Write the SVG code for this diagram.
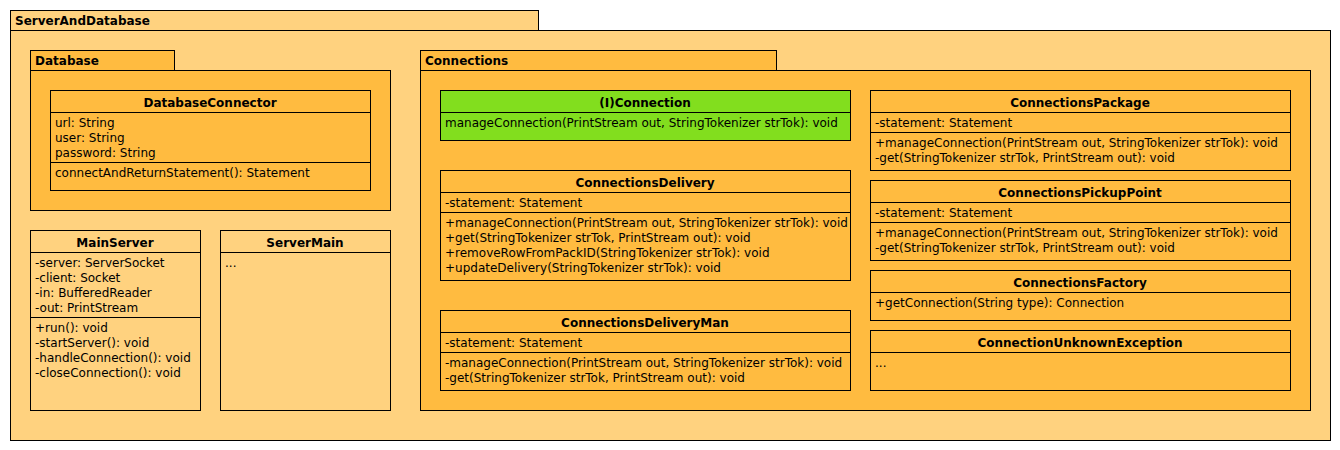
<svg xmlns="http://www.w3.org/2000/svg" width="1340" height="450" viewBox="0 0 1340 450">
<style>
  rect, line { stroke: #000; stroke-width: 1; shape-rendering: crispEdges; }
  .outer { fill: #FFD27F; }
  .pkg { fill: #FFBB40; }
  .cls { fill: #FFBB40; }
  .iface { fill: #82DE1E; }
  .light { fill: #FFD27F; }
  text { font-family: "DejaVu Sans", sans-serif; font-size: 12px; fill: #000; }
  .t { font-weight: bold; text-anchor: middle; }
  .p { font-weight: bold; }
</style>
<g id="pkg-ServerAndDatabase">
  <rect class="outer" x="10.5" y="10.5" width="528" height="20"/>
  <rect class="outer" x="10.5" y="30.5" width="1320" height="410"/>
  <text class="p" x="15" y="25">ServerAndDatabase</text>
</g>
<g id="pkg-Database">
  <rect class="pkg" x="30.5" y="50.5" width="144" height="20"/>
  <rect class="pkg" x="30.5" y="70.5" width="360" height="140"/>
  <text class="p" x="35" y="65">Database</text>
</g>
<g id="DatabaseConnector">
  <rect class="cls" x="50.5" y="90.5" width="320" height="100"/>
  <line x1="50" y1="112.5" x2="371" y2="112.5"/>
  <line x1="50" y1="162.5" x2="371" y2="162.5"/>
  <text class="t" x="210" y="107">DatabaseConnector</text>
  <text x="55" y="127">url: String</text>
  <text x="55" y="142">user: String</text>
  <text x="55" y="157">password: String</text>
  <text x="55" y="177">connectAndReturnStatement(): Statement</text>
</g>
<g id="MainServer">
  <rect class="light" x="30.5" y="230.5" width="170" height="180"/>
  <line x1="30" y1="252.5" x2="201" y2="252.5"/>
  <line x1="30" y1="317.5" x2="201" y2="317.5"/>
  <text class="t" x="115" y="247">MainServer</text>
  <text x="35" y="267">-server: ServerSocket</text>
  <text x="35" y="282">-client: Socket</text>
  <text x="35" y="297">-in: BufferedReader</text>
  <text x="35" y="312">-out: PrintStream</text>
  <text x="35" y="332">+run(): void</text>
  <text x="35" y="347">-startServer(): void</text>
  <text x="35" y="362">-handleConnection(): void</text>
  <text x="35" y="377">-closeConnection(): void</text>
</g>
<g id="ServerMain">
  <rect class="light" x="220.5" y="230.5" width="170" height="180"/>
  <line x1="220" y1="252.5" x2="391" y2="252.5"/>
  <text class="t" x="305" y="247">ServerMain</text>
  <text x="225" y="267">...</text>
</g>
<g id="pkg-Connections">
  <rect class="pkg" x="420.5" y="50.5" width="356" height="20"/>
  <rect class="pkg" x="420.5" y="70.5" width="890" height="340"/>
  <text class="p" x="425" y="65">Connections</text>
</g>
<g id="Connection">
  <rect class="iface" x="440.5" y="90.5" width="410" height="50"/>
  <line x1="440" y1="112.5" x2="851" y2="112.5"/>
  <text class="t" x="645" y="107">(I)Connection</text>
  <text x="445" y="127">manageConnection(PrintStream out, StringTokenizer strTok): void</text>
</g>
<g id="ConnectionsDelivery">
  <rect class="cls" x="440.5" y="170.5" width="410" height="110"/>
  <line x1="440" y1="192.5" x2="851" y2="192.5"/>
  <line x1="440" y1="212.5" x2="851" y2="212.5"/>
  <text class="t" x="645" y="187">ConnectionsDelivery</text>
  <text x="445" y="207">-statement: Statement</text>
  <text x="445" y="227">+manageConnection(PrintStream out, StringTokenizer strTok): void</text>
  <text x="445" y="242">+get(StringTokenizer strTok, PrintStream out): void</text>
  <text x="445" y="257">+removeRowFromPackID(StringTokenizer strTok): void</text>
  <text x="445" y="272">+updateDelivery(StringTokenizer strTok): void</text>
</g>
<g id="ConnectionsDeliveryMan">
  <rect class="cls" x="440.5" y="310.5" width="410" height="80"/>
  <line x1="440" y1="332.5" x2="851" y2="332.5"/>
  <line x1="440" y1="352.5" x2="851" y2="352.5"/>
  <text class="t" x="645" y="327">ConnectionsDeliveryMan</text>
  <text x="445" y="347">-statement: Statement</text>
  <text x="445" y="367">-manageConnection(PrintStream out, StringTokenizer strTok): void</text>
  <text x="445" y="382">-get(StringTokenizer strTok, PrintStream out): void</text>
</g>
<g id="ConnectionsPackage">
  <rect class="cls" x="870.5" y="90.5" width="420" height="80"/>
  <line x1="870" y1="112.5" x2="1291" y2="112.5"/>
  <line x1="870" y1="132.5" x2="1291" y2="132.5"/>
  <text class="t" x="1080" y="107">ConnectionsPackage</text>
  <text x="875" y="127">-statement: Statement</text>
  <text x="875" y="147">+manageConnection(PrintStream out, StringTokenizer strTok): void</text>
  <text x="875" y="162">-get(StringTokenizer strTok, PrintStream out): void</text>
</g>
<g id="ConnectionsPickupPoint">
  <rect class="cls" x="870.5" y="180.5" width="420" height="80"/>
  <line x1="870" y1="202.5" x2="1291" y2="202.5"/>
  <line x1="870" y1="222.5" x2="1291" y2="222.5"/>
  <text class="t" x="1080" y="197">ConnectionsPickupPoint</text>
  <text x="875" y="217">-statement: Statement</text>
  <text x="875" y="237">+manageConnection(PrintStream out, StringTokenizer strTok): void</text>
  <text x="875" y="252">-get(StringTokenizer strTok, PrintStream out): void</text>
</g>
<g id="ConnectionsFactory">
  <rect class="cls" x="870.5" y="270.5" width="420" height="50"/>
  <line x1="870" y1="292.5" x2="1291" y2="292.5"/>
  <text class="t" x="1080" y="287">ConnectionsFactory</text>
  <text x="875" y="307">+getConnection(String type): Connection</text>
</g>
<g id="ConnectionUnknownException">
  <rect class="cls" x="870.5" y="330.5" width="420" height="60"/>
  <line x1="870" y1="352.5" x2="1291" y2="352.5"/>
  <text class="t" x="1080" y="347">ConnectionUnknownException</text>
  <text x="875" y="367">...</text>
</g>
<g id="connectors"></g>
</svg>
